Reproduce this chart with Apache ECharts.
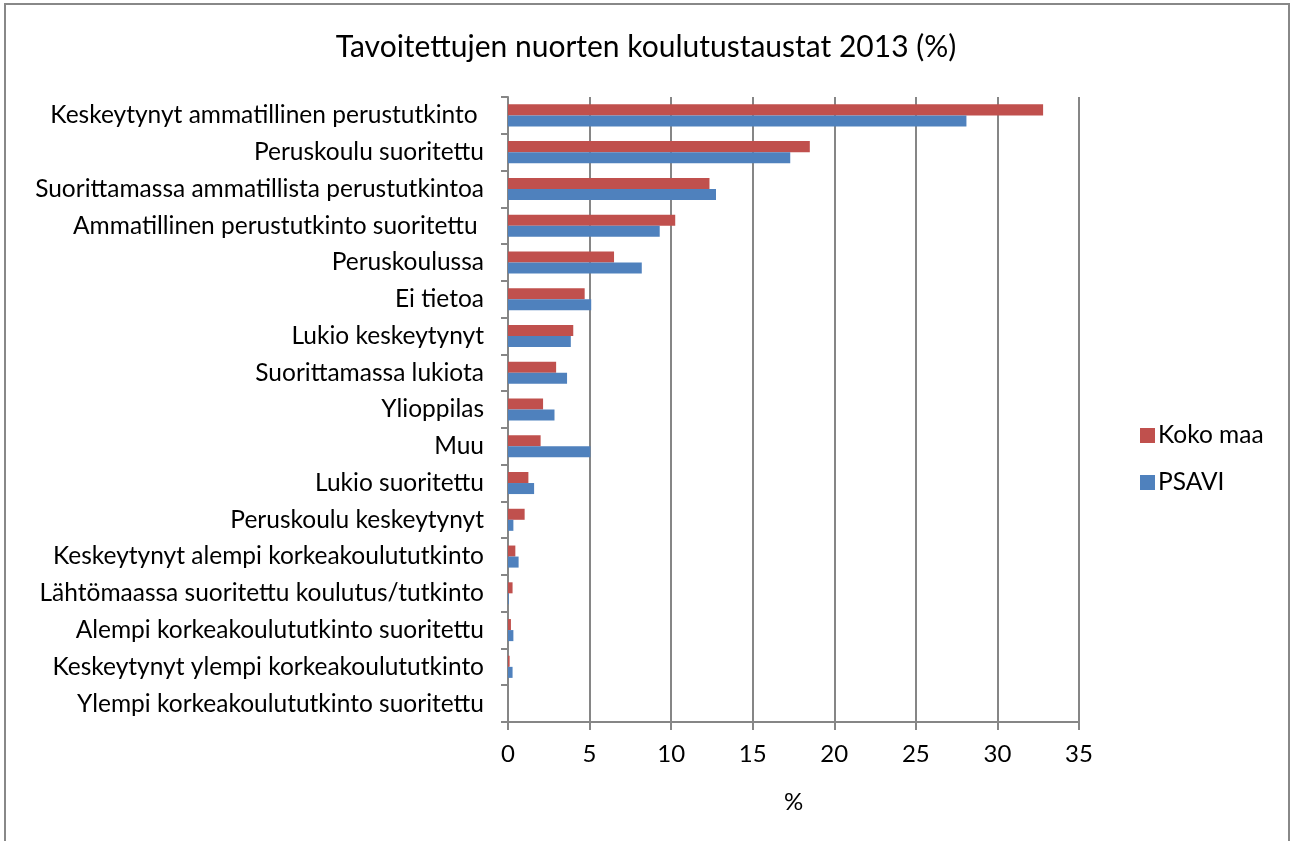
<!DOCTYPE html>
<html>
<head>
<meta charset="utf-8">
<script src="https://cdn.jsdelivr.net/npm/echarts@6/dist/echarts.min.js"></script>
<style>
html,body{margin:0;padding:0;background:#fff;}
#chart{width:1292px;height:841px;}
</style>
</head>
<body>
<div id="chart"></div>
<script>
const titleText = 'Tavoitettujen nuorten koulutustaustat 2013 (%)';
const categories = [
  'Keskeytynyt ammatillinen perustutkinto ',
  'Peruskoulu suoritettu',
  'Suorittamassa ammatillista perustutkintoa',
  'Ammatillinen perustutkinto suoritettu ',
  'Peruskoulussa',
  'Ei tietoa',
  'Lukio keskeytynyt',
  'Suorittamassa lukiota',
  'Ylioppilas',
  'Muu',
  'Lukio suoritettu',
  'Peruskoulu keskeytynyt',
  'Keskeytynyt alempi korkeakoulututkinto',
  'Lähtömaassa suoritettu koulutus/tutkinto',
  'Alempi korkeakoulututkinto suoritettu',
  'Keskeytynyt ylempi korkeakoulututkinto',
  'Ylempi korkeakoulututkinto suoritettu'
];
const kokoMaa = [32.8, 18.5, 12.35, 10.25, 6.5, 4.7, 4.0, 2.95, 2.15, 2.0, 1.25, 1.02, 0.45, 0.28, 0.18, 0.1, 0];
const psavi   = [28.1, 17.3, 12.75, 9.3, 8.2, 5.1, 3.85, 3.62, 2.85, 5.05, 1.6, 0.33, 0.65, 0.05, 0.33, 0.28, 0];
const xTicks = [0, 5, 10, 15, 20, 25, 30, 35];
const seriesNames = ['Koko maa', 'PSAVI'];
const axisName = '%';

const FONT = 'Lato';
const chart = echarts.init(document.getElementById('chart'), null, {renderer: 'canvas'});
chart.setOption({
  animation: false,
  backgroundColor: '#fff',
  textStyle: {fontFamily: FONT},
  title: {
    text: titleText,
    left: 'center',
    top: 27,
    textStyle: {fontFamily: FONT, fontSize: 30, fontWeight: 'normal', color: '#000'}
  },
  legend: {
    orient: 'vertical',
    left: 1135,
    top: 418,
    itemWidth: 15,
    itemHeight: 15,
    itemGap: 22,
    icon: 'rect',
    data: seriesNames,
    textStyle: {fontFamily: FONT, fontSize: 24.5, color: '#000', padding: [0,0,0,-2]}
  },
  grid: {left: 508, right: 213, top: 97, bottom: 119, containLabel: false},
  xAxis: {
    type: 'value',
    min: xTicks[0],
    max: xTicks[xTicks.length - 1],
    interval: 5,
    name: axisName,
    nameLocation: 'middle',
    nameGap: 68,
    nameTextStyle: {fontFamily: FONT, fontSize: 24, color: '#000'},
    axisLine: {show: true, lineStyle: {color: '#868686', width: 2}},
    axisTick: {show: true, length: 8, lineStyle: {color: '#868686', width: 2}},
    axisLabel: {fontFamily: FONT, fontSize: 24, color: '#000', margin: 20},
    splitLine: {show: true, lineStyle: {color: '#868686', width: 2}}
  },
  yAxis: {
    type: 'category',
    data: categories,
    inverse: true,
    axisLine: {show: true, lineStyle: {color: '#868686', width: 2}},
    axisTick: {show: true, length: 7, lineStyle: {color: '#868686', width: 2}},
    axisLabel: {fontFamily: FONT, fontSize: 24.5, color: '#000', margin: 24},
    splitLine: {show: false}
  },
  series: [
    {
      name: seriesNames[0], type: 'bar', data: kokoMaa,
      itemStyle: {color: '#C0504D'},
      barGap: '0%', barCategoryGap: '40%'
    },
    {
      name: seriesNames[1], type: 'bar', data: psavi,
      itemStyle: {color: '#4F81BD'},
      barGap: '0%', barCategoryGap: '40%'
    }
  ],
  graphic: [{
    type: 'rect',
    shape: {x: 5, y: 4, width: 1284, height: 860},
    style: {fill: 'none', stroke: '#888', lineWidth: 2},
    silent: true
  }]
});
</script>
</body>
</html>
